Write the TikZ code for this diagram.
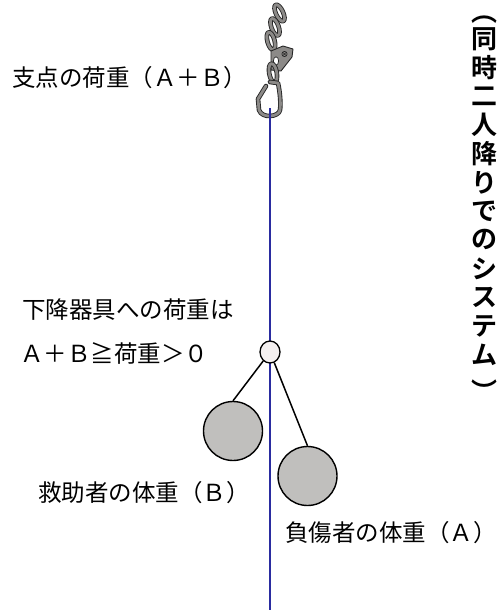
\documentclass[tikz,border=0pt]{standalone}
\usepackage{fontspec}
\usetikzlibrary{shapes.geometric}
\newfontfamily\jp{Noto Sans CJK JP}
\newfontfamily\jptitle{Noto Sans CJK JP Bold}
\definecolor{ropeblue}{RGB}{42,44,160}
\definecolor{metalgray}{RGB}{140,138,136}
\definecolor{weightgray}{RGB}{192,191,189}
\definecolor{ringfill}{RGB}{244,240,240}
% a metal part: dark outline with a grey core
\newcommand\metalstroke[1]{%
  \draw[line width=4.6pt, black!85, line join=round, line cap=round] #1;
  \draw[line width=2.8pt, metalgray, line join=round, line cap=round] #1;}
\tikzset{
  label/.style={font=\jp\fontsize{23.5}{28}\selectfont, inner sep=0pt, anchor=west},
  titlech/.style={font=\jptitle\fontsize{26}{28}\selectfont, inner sep=0pt},
  rope/.style={draw=ropeblue, line width=1.6pt},
  weight/.style={circle, draw=black, line width=1.4pt, fill=weightgray, minimum size=59pt, inner sep=0pt},
  device/.style={ellipse, draw=black, line width=1.3pt, fill=ringfill, minimum width=20pt, minimum height=22pt, inner sep=0pt},
  strap/.style={draw=black, line width=1.5pt}
}
\begin{document}
\begin{tikzpicture}[x=1pt,y=-1pt]
\useasboundingbox (0,0) rectangle (498,611);

% anchor chain, plate and carabiner
\begin{scope}[shift={(279.5,13)}, rotate=25]
  \metalstroke{(0,0) ellipse [x radius=3.6, y radius=9]}
\end{scope}
\begin{scope}[shift={(275,27)}, rotate=20]
  \metalstroke{(0,0) ellipse [x radius=3.6, y radius=9]}
\end{scope}
\begin{scope}[shift={(271,41)}, rotate=15]
  \metalstroke{(0,0) ellipse [x radius=3.6, y radius=9]}
\end{scope}
\filldraw[fill=metalgray, draw=black!85, line width=0.9pt, line join=round]
  (271,51) -- (283,46) -- (293,49) -- (292,57) -- (281,71) -- (271,70) -- cycle;
\filldraw[fill=white, draw=black!85, line width=0.7pt] (276,61) ellipse [x radius=2.6, y radius=4.2];
\draw[black!85, line width=0.7pt] (284.5,54) circle [radius=2.6];
\draw[black!85, line width=0.5pt] (283,52.5) -- (286,55.5) (286,52.5) -- (283,55.5);
\begin{scope}[shift={(273,73)}, rotate=10]
  \metalstroke{(0,0) ellipse [x radius=3.8, y radius=9.5]}
\end{scope}
\metalstroke{(270,82) -- (278,83) .. controls (280,92) and (281,104) .. (280,110)
  .. controls (279,117) and (262,119) .. (259,110) -- (258,99) -- (266,86)}

% rope
\coordinate (ropetop) at (270,108);
\coordinate (ropeend) at (270,610);
\draw[rope] (ropetop) -- (ropeend);

% descender and the two persons
\node[device] (dev) at (270,352) {};
\node[weight] (rescuer) at (233,431) {};
\node[weight] (injured) at (307.5,476) {};
\draw[strap] (dev) -- (rescuer.north);
\draw[strap] (dev) -- (injured.north);

% labels
\node[label] (lsupport) at (12,78) {支点の荷重（Ａ＋Ｂ）};
\node[label] (ldev1) at (22,310) {下降器具への荷重は};
\node[label] (ldev2) at (20,353) {Ａ＋Ｂ≧荷重＞０};
\node[label] (lresc) at (38,493) {救助者の体重（Ｂ）};
\node[label] (linj) at (285,533) {負傷者の体重（Ａ）};

% vertical title
\node[titlech] (vopen) at (484,20) {︵};
\foreach \ch [count=\i] in {同,時,二,人,降,り,で,の,シ,ス,テ,ム}
  \node[titlech] (v\i) at (484,{39+(\i-1)*28.7}) {\ch};
\node[titlech] (vclose) at (484,391) {︶};
\end{tikzpicture}
\end{document}
